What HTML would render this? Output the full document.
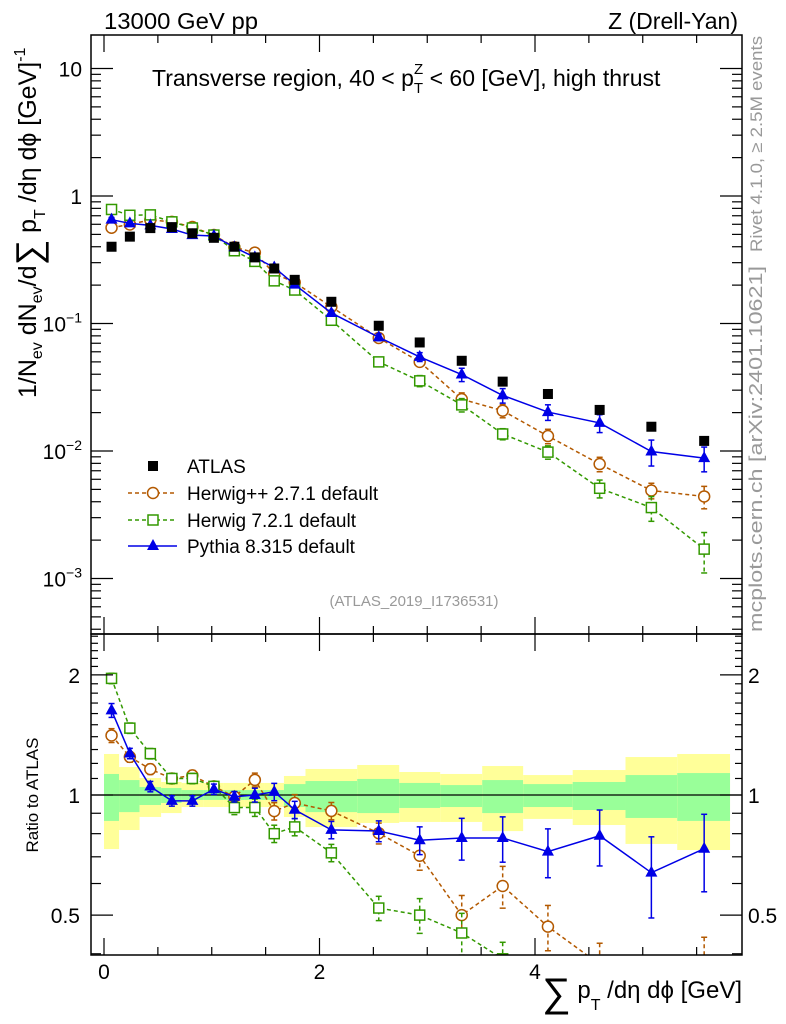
<!DOCTYPE html>
<html><head><meta charset="utf-8"><style>
html,body{margin:0;background:#fff;width:786px;height:1024px;overflow:hidden;position:relative;}
svg{display:block;font-family:"Liberation Sans",Arial,sans-serif;}
</style></head><body>
<svg id="c" width="786" height="1024" xmlns="http://www.w3.org/2000/svg"></svg>
<script>
const categories=[0.07,0.24,0.43,0.63,0.82,1.02,1.21,1.40,1.58,1.77,2.11,2.55,2.93,3.32,3.70,4.12,4.60,5.08,5.57];
const binEdges=[0,0.14,0.33,0.53,0.72,0.92,1.11,1.3,1.49,1.67,1.87,2.35,2.74,3.12,3.51,3.89,4.35,4.84,5.32,5.81];
const atlas=[0.40,0.48,0.56,0.57,0.51,0.47,0.40,0.33,0.27,0.22,0.148,0.096,0.071,0.051,0.035,0.028,0.021,0.0155,0.012];
const herwigpp=[0.564,0.598,0.65,0.627,0.571,0.494,0.396,0.36,0.246,0.21,0.135,0.077,0.050,0.0255,0.0207,0.0131,0.0079,0.0049,0.0044];
const herwig7=[0.784,0.706,0.711,0.627,0.561,0.494,0.372,0.307,0.216,0.183,0.106,0.050,0.0355,0.023,0.0136,0.0098,0.0051,0.0036,0.0017];
const pythia=[0.652,0.61,0.588,0.551,0.493,0.486,0.396,0.33,0.275,0.202,0.121,0.078,0.0547,0.0398,0.0273,0.0202,0.0166,0.0099,0.0088];
const errHpp=[0.04,0.03,0.03,0.03,0.03,0.03,0.03,0.04,0.05,0.05,0.05,0.06,0.08,0.12,0.12,0.13,0.13,0.14,0.2];
const errH7=[0.03,0.03,0.03,0.03,0.03,0.03,0.04,0.05,0.05,0.05,0.05,0.07,0.1,0.12,0.1,0.12,0.16,0.22,0.35];
const errPy=[0.04,0.03,0.03,0.03,0.03,0.03,0.03,0.04,0.05,0.05,0.05,0.06,0.08,0.12,0.13,0.14,0.16,0.23,0.22];
const totHi=[1.267,1.175,1.103,1.078,1.072,1.072,1.072,1.072,1.072,1.116,1.162,1.189,1.142,1.129,1.182,1.122,1.155,1.245,1.267];
const totLo=[0.732,0.817,0.881,0.901,0.933,0.933,0.933,0.933,0.933,0.881,0.831,0.851,0.856,0.856,0.812,0.871,0.841,0.754,0.728];
const statHi=[1.129,1.09,1.047,1.041,1.029,1.029,1.029,1.029,1.029,1.065,1.084,1.097,1.072,1.059,1.09,1.065,1.078,1.122,1.135];
const statLo=[0.861,0.906,0.944,0.955,0.972,0.972,0.972,0.972,0.972,0.933,0.906,0.901,0.928,0.933,0.901,0.933,0.917,0.876,0.861];
const xTicks=[0,2,4];
const mainTicks=[10,1,0.1,0.01,0.001];
const mainTickLabels=["10","1","10<tspan dy='-9' font-size='14'>−1</tspan>","10<tspan dy='-9' font-size='14'>−2</tspan>","10<tspan dy='-9' font-size='14'>−3</tspan>"];
const ratioTicks=[2,1,0.5];
const ratioTickLabels=["2","1","0.5"];

const L=91,R=742,T=35,MB=634,RB=955;
const X=v=>104+v*107.75;
const Y=v=>196-Math.log10(v)*127.5;
const YR=v=>795-Math.log10(v)*399;
const svg=document.getElementById('c');
const NS='http://www.w3.org/2000/svg';
function el(tag,attrs,parent){const e=document.createElementNS(NS,tag);for(const k in attrs)e.setAttribute(k,attrs[k]);(parent||svg).appendChild(e);return e;}
function txt(s,attrs,parent){const e=el('text',attrs,parent);e.innerHTML=s;return e;}

const bands=el('g',{});


for(let i=0;i<categories.length;i++){
  const x0=X(binEdges[i]),x1=X(binEdges[i+1]);
  const y1=Math.max(YR(totHi[i]),T),y2=Math.min(YR(totLo[i]),RB);
  el('rect',{x:x0,y:y1,width:x1-x0,height:y2-y1,fill:'#ffff99'},bands);
  el('rect',{x:x0,y:YR(statHi[i]),width:x1-x0,height:YR(statLo[i])-YR(statHi[i]),fill:'#99ff99'},bands);
}
el('line',{x1:L,x2:R,y1:YR(1),y2:YR(1),stroke:'#000','stroke-width':1.3});

const defs=el('defs',{});
const c1=el('clipPath',{id:'cm'},defs);el('rect',{x:L,y:T,width:R-L,height:MB-T},c1);
const c2=el('clipPath',{id:'cr'},defs);el('rect',{x:L,y:MB,width:R-L,height:RB-MB},c2);

function marker(g,type,x,y,color){
  if(type==='sq')el('rect',{x:x-5,y:y-5,width:10,height:10,fill:'#000'},g);
  else if(type==='osq')el('rect',{x:x-5,y:y-5,width:10,height:10,fill:'#fff',stroke:color,'stroke-width':1.5},g);
  else if(type==='circ')el('circle',{cx:x,cy:y,r:5.5,fill:'#fff',stroke:color,'stroke-width':1.5},g);
  else el('path',{d:`M${x},${y-7}L${x+6},${y+4}L${x-6},${y+4}Z`,fill:color},g);
}
function series(name,vals,err,color,dash,type,ratio){
  const g=el('g',{'clip-path':ratio?'url(#cr)':'url(#cm)'});
  
  
  const yf=ratio?(i=>YR(vals[i]/atlas[i])):(i=>Y(vals[i]));
  const yv=ratio?(i,f)=>YR(vals[i]*f/atlas[i]):(i,f)=>Y(vals[i]*f);
  let d='';
  categories.forEach((c,i)=>{d+=(i?'L':'M')+X(c)+','+yf(i);});
  el('path',{d:d,fill:'none',stroke:color,'stroke-width':1.5,'stroke-dasharray':dash||'none'},g);
  categories.forEach((c,i)=>{
    const x=X(c),a=yv(i,1+err[i]),b=yv(i,1-err[i]);
    el('line',{x1:x,x2:x,y1:a,y2:b,stroke:color,'stroke-width':1.5,'stroke-dasharray':dash||'none'},g);
    el('line',{x1:x-3,x2:x+3,y1:a,y2:a,stroke:color,'stroke-width':1.5},g);
    el('line',{x1:x-3,x2:x+3,y1:b,y2:b,stroke:color,'stroke-width':1.5},g);
    marker(g,type,x,yf(i),color);
  });
}
[false,true].forEach(r=>{
  series('herwigpp',herwigpp,errHpp,'#b35900','4,3','circ',r);
  series('herwig7',herwig7,errH7,'#339900','4,3','osq',r);
  series('pythia',pythia,errPy,'#0000e6',null,'tri',r);
});
const ga=el('g',{'clip-path':'url(#cm)'});


categories.forEach((c,i)=>marker(ga,'sq',X(c),Y(atlas[i]),'#000'));

el('rect',{x:L,y:T,width:R-L,height:MB-T,fill:'none',stroke:'#000','stroke-width':1.5});
el('rect',{x:L,y:MB,width:R-L,height:RB-MB,fill:'none',stroke:'#000','stroke-width':1.5});

const axg=el('g',{stroke:'#000','stroke-width':1.2});
for(let v=0;v<=5.8;v+=0.5){
  const x=X(v),maj=Math.abs(v-Math.round(v/2)*2)<1e-6,len=maj?17:8;
  el('line',{x1:x,x2:x,y1:T,y2:T+len},axg);el('line',{x1:x,x2:x,y1:MB,y2:MB-len},axg);
  el('line',{x1:x,x2:x,y1:MB,y2:MB+len},axg);el('line',{x1:x,x2:x,y1:RB,y2:RB-len},axg);
}
xTicks.forEach(v=>txt(String(v),{x:X(v),y:979,'font-size':21,'text-anchor':'middle'}));
for(let e=-4;e<=1;e++)for(let m=1;m<10;m++){
  const v=m*Math.pow(10,e),y=Y(v);if(y<T||y>MB)continue;const len=m===1?22:10;
  el('line',{x1:L,x2:L+len,y1:y,y2:y},axg);el('line',{x1:R,x2:R-len,y1:y,y2:y},axg);
}
mainTicks.forEach((v,i)=>txt(mainTickLabels[i],{x:82,y:Y(v)+8,'font-size':21,'text-anchor':'end'}));
[0.4,0.5,0.6,0.7,0.8,0.9,1,2].forEach(v=>{const y=YR(v);const len=(v===1||v===2||v===0.5)?22:10;
  el('line',{x1:L,x2:L+len,y1:y,y2:y},axg);el('line',{x1:R,x2:R-len,y1:y,y2:y},axg);});
[1.1,1.2,1.3,1.4,1.5,1.6,1.7,1.8,1.9,2.1,2.2,2.3,2.4,2.5].forEach(v=>{const y=YR(v);
  el('line',{x1:L,x2:L+7,y1:y,y2:y},axg);el('line',{x1:R,x2:R-7,y1:y,y2:y},axg);});
ratioTicks.forEach((v,i)=>{
  txt(ratioTickLabels[i],{x:80,y:YR(v)+8,'font-size':21,'text-anchor':'end'});
  txt(ratioTickLabels[i],{x:748,y:YR(v)+8,'font-size':21,fill:'#000'});
});
</script>
<svg width="786" height="1024" style="position:absolute;left:0;top:0" xmlns="http://www.w3.org/2000/svg" font-family="Liberation Sans, Arial, sans-serif">
<text x="104" y="29" font-size="23" textLength="154" lengthAdjust="spacingAndGlyphs">13000 GeV pp</text>
<text x="738" y="29" font-size="23" text-anchor="end">Z (Drell-Yan)</text>
<text x="152" y="86" font-size="23">Transverse region, 40 &lt; p<tspan font-size="15" dy="7">T</tspan><tspan font-size="15" dx="-9" dy="-19">Z</tspan><tspan dy="12"> &lt; 60 [GeV], high thrust</tspan></text>
<text transform="translate(762,252) rotate(-90)" font-size="17" fill="#999" textLength="216" lengthAdjust="spacingAndGlyphs">Rivet 4.1.0, ≥ 2.5M events</text>
<text transform="translate(762,632) rotate(-90)" font-size="18" fill="#999" textLength="366" lengthAdjust="spacingAndGlyphs">mcplots.cern.ch [arXiv:2401.10621]</text>
<text x="414" y="606" font-size="15" fill="#999" text-anchor="middle">(ATLAS_2019_I1736531)</text>
<text transform="translate(36,398) rotate(-90)" font-size="25">1/N<tspan font-size="16" dy="6">ev</tspan><tspan dy="-6"> dN</tspan><tspan font-size="16" dy="6">ev</tspan><tspan dy="-6">/d</tspan><tspan font-size="36" dy="5">∑</tspan><tspan dy="-5"> p</tspan><tspan font-size="16" dy="9">T</tspan><tspan dy="-9"> /dη dϕ  [GeV]</tspan><tspan font-size="16" dy="-11">-1</tspan></text>
<text transform="translate(38,795) rotate(-90)" font-size="17" text-anchor="middle">Ratio to ATLAS</text>
<text x="742" y="998" font-size="24" text-anchor="end"><tspan font-size="40" dy="8">∑</tspan><tspan dy="-8"> p</tspan><tspan font-size="16" dy="12">T</tspan><tspan dy="-12"> /dη dϕ [GeV]</tspan></text>
<g font-size="19">
 <g><rect x="148" y="461" width="10" height="10" fill="#000"/><text x="187" y="473">ATLAS</text></g>
 <g><line x1="128" x2="177" y1="493" y2="493" stroke="#b35900" stroke-width="1.5" stroke-dasharray="4,3"/><circle cx="153" cy="493" r="5.5" fill="#fff" stroke="#b35900" stroke-width="1.5"/><text x="187" y="500">Herwig++ 2.7.1 default</text></g>
 <g><line x1="128" x2="177" y1="520" y2="520" stroke="#339900" stroke-width="1.5" stroke-dasharray="4,3"/><rect x="148" y="515" width="10" height="10" fill="#fff" stroke="#339900" stroke-width="1.5"/><text x="187" y="527">Herwig 7.2.1 default</text></g>
 <g><line x1="128" x2="177" y1="546" y2="546" stroke="#0000e6" stroke-width="1.5"/><path d="M153,539L159,550L147,550Z" fill="#0000e6"/><text x="187" y="553">Pythia 8.315 default</text></g>
</g>
</svg>
</body></html>
